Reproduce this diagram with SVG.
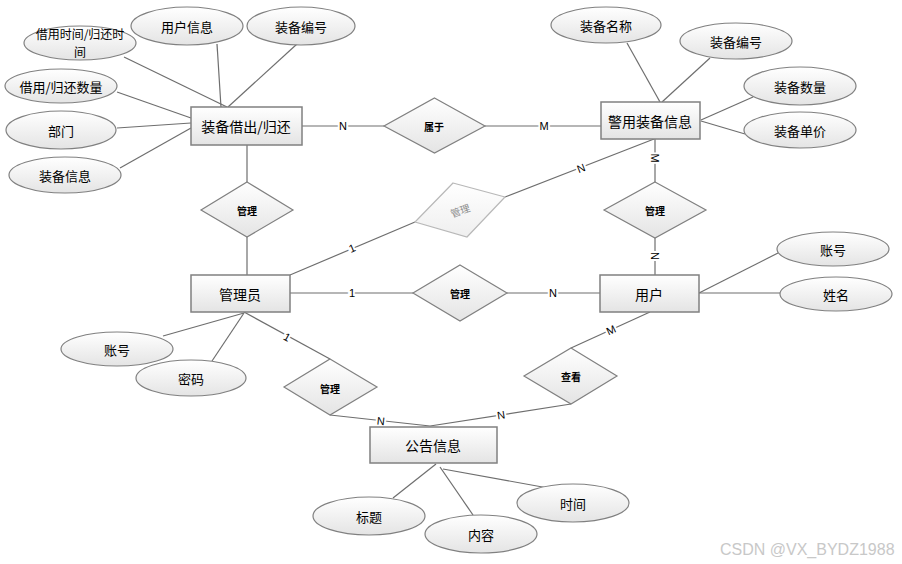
<svg xmlns="http://www.w3.org/2000/svg" width="902" height="564" viewBox="0 0 902 564">
<defs>
<linearGradient id="gr" x1="0" y1="0" x2="0" y2="1"><stop offset="0" stop-color="#ffffff"/><stop offset="1" stop-color="#e4e4e4"/></linearGradient>
<linearGradient id="gl" x1="0" y1="0" x2="0" y2="1"><stop offset="0" stop-color="#ffffff"/><stop offset="1" stop-color="#efefef"/></linearGradient>
</defs>
<style>
.ent{fill:url(#gr);stroke:#808080;stroke-width:1.5}
.att{fill:url(#gr);stroke:#808080;stroke-width:1.2}
.rel{fill:url(#gr);stroke:#808080;stroke-width:1.2}
.relg{fill:url(#gl);stroke:#b8b8b8;stroke-width:1.2}
.ln{stroke:#6e6e6e;stroke-width:1.2;fill:none}
text{font-family:"Noto Sans CJK SC","Liberation Sans",sans-serif;fill:#000;text-anchor:middle;dominant-baseline:central}
.te{font-size:14px}
.ta{font-size:13px}
.ts{font-size:12px}
.tr{font-size:10px;font-weight:bold}
.lb{font-family:"Liberation Sans",sans-serif;font-size:11px;paint-order:stroke;stroke:#fff;stroke-width:4px}
.wm{font-family:"Liberation Sans",sans-serif;font-size:16px;fill:#c8c8c8;text-anchor:start}
</style>
<g id="connectors">
<line class="ln" x1="124" y1="57" x2="227" y2="107"/>
<line class="ln" x1="217" y1="44" x2="221" y2="107"/>
<line class="ln" x1="297" y1="44" x2="228" y2="107"/>
<line class="ln" x1="117" y1="92" x2="191" y2="118"/>
<line class="ln" x1="117" y1="128" x2="191" y2="123"/>
<line class="ln" x1="120" y1="168" x2="191" y2="128"/>
<line class="ln" x1="627" y1="43" x2="660" y2="102"/>
<line class="ln" x1="710" y1="58" x2="662" y2="102"/>
<line class="ln" x1="753" y1="97" x2="701" y2="120"/>
<line class="ln" x1="745" y1="134" x2="701" y2="121"/>
<line class="ln" x1="699" y1="293" x2="778" y2="253"/>
<line class="ln" x1="699" y1="293" x2="780" y2="293"/>
<line class="ln" x1="244" y1="313" x2="163" y2="336"/>
<line class="ln" x1="244" y1="313" x2="212" y2="361"/>
<line class="ln" x1="436" y1="464" x2="393" y2="498"/>
<line class="ln" x1="440" y1="467" x2="473" y2="515"/>
<line class="ln" x1="443" y1="469" x2="548" y2="488"/>
<line class="ln" x1="302" y1="126" x2="384" y2="126"/>
<line class="ln" x1="485" y1="126" x2="601" y2="126"/>
<line class="ln" x1="247" y1="145" x2="247" y2="182"/>
<line class="ln" x1="247" y1="237" x2="247" y2="275"/>
<line class="ln" x1="290" y1="275" x2="415" y2="222"/>
<line class="ln" x1="505" y1="197" x2="654" y2="139"/>
<line class="ln" x1="655" y1="139" x2="655" y2="182"/>
<line class="ln" x1="655" y1="238" x2="655" y2="275"/>
<line class="ln" x1="290" y1="293" x2="413" y2="293"/>
<line class="ln" x1="507" y1="293" x2="600" y2="293"/>
<line class="ln" x1="244" y1="312" x2="330" y2="359"/>
<line class="ln" x1="330" y1="415" x2="430" y2="426"/>
<line class="ln" x1="650" y1="312" x2="571" y2="348"/>
<line class="ln" x1="571" y1="404" x2="430" y2="426"/>
<text class="lb" x="343" y="126">N</text>
<text class="lb" x="544" y="126">M</text>
<text class="lb" x="352" y="248" transform="rotate(-23 352 248)">1</text>
<text class="lb" x="581" y="168" transform="rotate(-21 581 168)">N</text>
<text class="lb" x="655" y="158" transform="rotate(90 655 158)">M</text>
<text class="lb" x="655" y="256" transform="rotate(90 655 256)">N</text>
<text class="lb" x="352" y="293">1</text>
<text class="lb" x="553" y="293">N</text>
<text class="lb" x="287" y="337" transform="rotate(29 287 337)">1</text>
<text class="lb" x="381" y="421" transform="rotate(6 381 421)">N</text>
<text class="lb" x="501" y="415" transform="rotate(-9 501 415)">N</text>
<text class="lb" x="611" y="330" transform="rotate(-25 611 330)">M</text>
</g>
<g id="e-borrow"><rect class="ent" x="191" y="107" width="111" height="38"/><text class="te" x="246" y="126">装备借出/归还</text></g>
<g id="e-equip"><rect class="ent" x="601" y="102" width="99" height="37"/><text class="te" x="650" y="121">警用装备信息</text></g>
<g id="e-admin"><rect class="ent" x="191" y="275" width="99" height="37"/><text class="te" x="240" y="294">管理员</text></g>
<g id="e-user"><rect class="ent" x="600" y="275" width="99" height="37"/><text class="te" x="649" y="294">用户</text></g>
<g id="e-notice"><rect class="ent" x="370" y="427" width="127" height="36"/><text class="te" x="433" y="445">公告信息</text></g>
<g id="r-belong"><polygon class="rel" points="434.5,98 485,126 434.5,153 384,126"/><text class="tr" x="434" y="126">属于</text></g>
<g id="r-manage1"><polygon class="rel" points="247,182 293,210 247,237 201,210"/><text class="tr" x="247" y="210">管理</text></g>
<g id="r-manage2"><polygon class="relg" points="453,183 505,197 467,237 415,222"/><text class="tr" x="460" y="210" style="fill:#8a8a8a;font-weight:normal" transform="rotate(-20 460 210)">管理</text></g>
<g id="r-manage3"><polygon class="rel" points="655,182 706,210 655,238 604,210"/><text class="tr" x="655" y="210">管理</text></g>
<g id="r-manage4"><polygon class="rel" points="460,265 507,293 460,321 413,293"/><text class="tr" x="460" y="293">管理</text></g>
<g id="r-manage5"><polygon class="rel" points="330,359 377,387 330,415 284,387"/><text class="tr" x="330" y="388">管理</text></g>
<g id="r-view"><polygon class="rel" points="571,348 617,376 571,404 524,376"/><text class="tr" x="571" y="376">查看</text></g>
<g id="a-time"><ellipse class="att" cx="80" cy="43" rx="56" ry="17"/><text class="ts" x="80" y="33">借用时间/归还时</text><text class="ts" x="80" y="51">间</text></g>
<g id="a-userinfo"><ellipse class="att" cx="187" cy="26" rx="56" ry="19"/><text class="ta" x="187" y="26">用户信息</text></g>
<g id="a-code1"><ellipse class="att" cx="301" cy="26" rx="54" ry="19"/><text class="ta" x="301" y="26">装备编号</text></g>
<g id="a-qty1"><ellipse class="att" cx="61" cy="86" rx="56" ry="17"/><text class="ta" x="61" y="86">借用/归还数量</text></g>
<g id="a-dept"><ellipse class="att" cx="61" cy="130" rx="55" ry="19"/><text class="ta" x="61" y="130">部门</text></g>
<g id="a-equipinfo"><ellipse class="att" cx="65" cy="175" rx="56" ry="18"/><text class="ta" x="65" y="175">装备信息</text></g>
<g id="a-name"><ellipse class="att" cx="606" cy="25" rx="55" ry="18"/><text class="ta" x="606" y="25">装备名称</text></g>
<g id="a-code2"><ellipse class="att" cx="736" cy="41" rx="56" ry="18"/><text class="ta" x="736" y="41">装备编号</text></g>
<g id="a-qty2"><ellipse class="att" cx="800" cy="86" rx="56" ry="19"/><text class="ta" x="800" y="86">装备数量</text></g>
<g id="a-price"><ellipse class="att" cx="800" cy="130" rx="56" ry="18"/><text class="ta" x="800" y="130">装备单价</text></g>
<g id="a-uacc"><ellipse class="att" cx="833" cy="249" rx="56" ry="17"/><text class="ta" x="833" y="249">账号</text></g>
<g id="a-uname"><ellipse class="att" cx="836" cy="294" rx="56" ry="17"/><text class="ta" x="836" y="294">姓名</text></g>
<g id="a-aacc"><ellipse class="att" cx="117" cy="349" rx="56" ry="17"/><text class="ta" x="117" y="349">账号</text></g>
<g id="a-pwd"><ellipse class="att" cx="191" cy="378" rx="55" ry="18"/><text class="ta" x="191" y="378">密码</text></g>
<g id="a-title"><ellipse class="att" cx="369" cy="516" rx="56" ry="19"/><text class="ta" x="369" y="516">标题</text></g>
<g id="a-content"><ellipse class="att" cx="481" cy="534" rx="56" ry="19"/><text class="ta" x="481" y="534">内容</text></g>
<g id="a-ntime"><ellipse class="att" cx="573" cy="503" rx="56" ry="19"/><text class="ta" x="573" y="503">时间</text></g>
<text class="wm" x="720" y="549">CSDN @VX_BYDZ1988</text>
</svg>
